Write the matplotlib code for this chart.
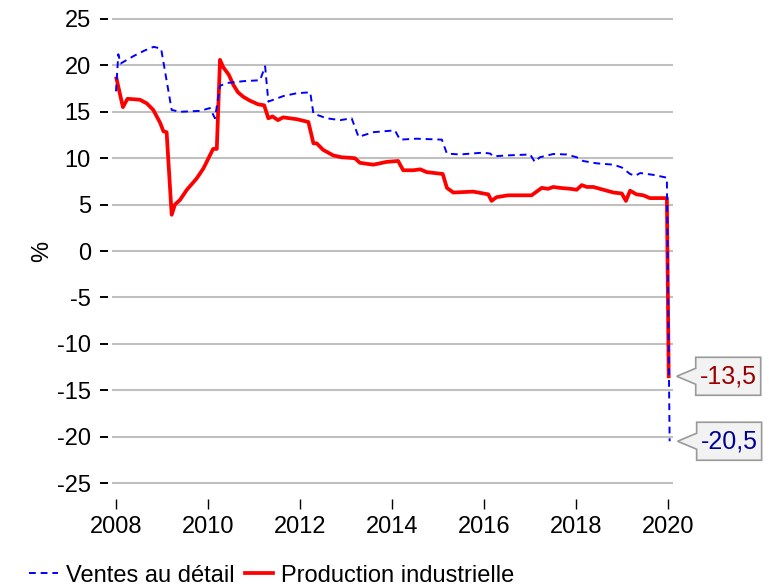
import matplotlib
matplotlib.use('Agg')
import matplotlib.pyplot as plt
import matplotlib.transforms as mtransforms
from matplotlib.patches import Polygon

plt.rcParams['font.family'] = ['Liberation Sans', 'DejaVu Sans']
plt.rcParams['axes.unicode_minus'] = False

# values (x in fractional years)
x_ventes = [2008.00, 2008.05, 2008.10, 2008.38, 2008.62, 2008.82, 2008.98, 2009.21, 2009.39, 2009.83,
            2010.04, 2010.15, 2010.26, 2010.41, 2010.77, 2011.13, 2011.24, 2011.31, 2011.64, 2011.93,
            2012.22, 2012.29, 2012.58, 2012.87, 2013.12, 2013.27, 2013.59, 2014.06, 2014.17, 2014.53,
            2015.08, 2015.19, 2015.47, 2015.98, 2016.13, 2016.20, 2016.49, 2017.00, 2017.10, 2017.21,
            2017.50, 2017.79, 2018.01, 2018.15, 2018.44, 2018.81, 2018.99, 2019.17, 2019.28, 2019.39,
            2019.68, 2019.97, 2020.03]
ventes = [17.2, 21.2, 20.2, 21.0, 21.6, 22.0, 21.8, 15.2, 15.0, 15.1,
          15.4, 14.3, 17.8, 18.1, 18.3, 18.4, 19.9, 16.1, 16.7, 17.0,
          17.1, 14.8, 14.3, 14.1, 14.3, 12.3, 12.8, 13.0, 12.0, 12.1,
          12.0, 10.5, 10.4, 10.6, 10.5, 10.2, 10.3, 10.4, 9.6, 10.1,
          10.45, 10.4, 10.1, 9.7, 9.45, 9.3, 9.0, 8.3, 8.1, 8.4,
          8.2, 7.9, -20.5]

x_prod = [2008.01, 2008.15, 2008.25, 2008.52, 2008.67, 2008.81, 2008.96, 2009.03, 2009.10, 2009.21,
          2009.28, 2009.39, 2009.54, 2009.75, 2009.90, 2010.04, 2010.11, 2010.19, 2010.26, 2010.33,
          2010.45, 2010.55, 2010.65, 2010.77, 2010.91, 2011.09, 2011.22, 2011.31, 2011.40, 2011.52,
          2011.63, 2011.93, 2012.18, 2012.29, 2012.36, 2012.50, 2012.72, 2012.90, 2013.19, 2013.30,
          2013.59, 2013.88, 2014.13, 2014.24, 2014.46, 2014.61, 2014.75, 2015.10, 2015.19, 2015.33,
          2015.76, 2016.09, 2016.16, 2016.27, 2016.52, 2017.03, 2017.25, 2017.39, 2017.50, 2017.65,
          2017.87, 2018.01, 2018.12, 2018.23, 2018.37, 2018.59, 2018.81, 2018.99, 2019.08, 2019.17,
          2019.31, 2019.46, 2019.60, 2019.97, 2020.01]
prod = [18.6, 15.5, 16.4, 16.3, 15.9, 15.2, 13.8, 12.9, 12.8, 3.9,
        5.0, 5.5, 6.6, 7.8, 8.9, 10.3, 11.0, 11.0, 20.6, 19.8,
        19.0, 17.9, 17.1, 16.6, 16.2, 15.8, 15.7, 14.3, 14.5, 14.1,
        14.4, 14.2, 13.9, 11.6, 11.6, 10.9, 10.3, 10.1, 10.0, 9.5,
        9.3, 9.6, 9.7, 8.7, 8.7, 8.8, 8.5, 8.3, 6.8, 6.3,
        6.4, 6.1, 5.4, 5.8, 6.0, 6.0, 6.8, 6.7, 6.9, 6.8,
        6.7, 6.6, 7.1, 6.9, 6.9, 6.6, 6.3, 6.2, 5.4, 6.5,
        6.1, 6.0, 5.7, 5.7, -13.5]

years = [2008, 2010, 2012, 2014, 2016, 2018, 2020]
yticks = list(range(-25, 30, 5))

W, H = 769, 587
FS = 17
fig = plt.figure(figsize=(W / 100, H / 100), dpi=100)
ax = fig.add_axes([112 / W, 1 - 485.8 / H, 561 / W, 469.6 / H])

ax.plot(x_prod, prod, color='#ff0000', lw=2.7, zorder=3, label='Production industrielle')
ax.plot(x_ventes, ventes, color='#0000ff', lw=1.4, ls=(0, (3.5, 2.5)), zorder=4, label='Ventes au détail')

ax.set_xlim(2007.913, 2020.103)
ax.set_ylim(-25.3, 25.3)
ax.set_xticks(years)
ax.set_yticks(yticks)
ax.yaxis.grid(True, color='#c0c0c0', lw=1.5)
ax.set_axisbelow(True)

for s in ['top', 'right']:
    ax.spines[s].set_visible(False)
ax.spines['left'].set_position(('outward', 2.9))
ax.spines['bottom'].set_position(('outward', 9.5))
ax.spines['left'].set_visible(False)
ax.spines['bottom'].set_visible(False)
ax.tick_params(axis='y', length=5.8, width=1.4, pad=6.5, labelsize=FS, colors='black')
ax.tick_params(axis='x', length=7.2, width=1.0, pad=5, labelsize=FS)
ax.set_ylabel('%', fontsize=FS)
ax.yaxis.set_label_coords(-0.105, 0.5)

px = mtransforms.Affine2D().scale(1 / 100) + fig.dpi_scale_trans


def callout(x, y, text, color):
    tr = px + mtransforms.ScaledTranslation(x, y, ax.transData)
    pts = [(8, 0), (27, 8), (27, 19), (92, 19), (92, -19), (27, -19), (27, -8)]
    ax.add_patch(Polygon(pts, closed=True, transform=tr, facecolor='#f2f2f2',
                         edgecolor='#999999', lw=1.2, clip_on=False, zorder=5))
    ax.text(60, 0, text, transform=tr, color=color, fontsize=FS + 1,
            ha='center', va='center', zorder=6, clip_on=False)


callout(x_prod[-1], prod[-1], f"{prod[-1]:.1f}".replace('.', ','), '#990000')
callout(x_ventes[-1], ventes[-1], f"{ventes[-1]:.1f}".replace('.', ','), '#000099')

handles, labels = ax.get_legend_handles_labels()
fig.legend(handles[::-1], labels[::-1], loc='lower left', bbox_to_anchor=(20 / W, -9 / H),
           ncol=2, frameon=False, fontsize=FS, handlelength=1.2, handletextpad=0.34,
           columnspacing=0.45, borderaxespad=0)

fig.savefig('out.png', dpi=100)
